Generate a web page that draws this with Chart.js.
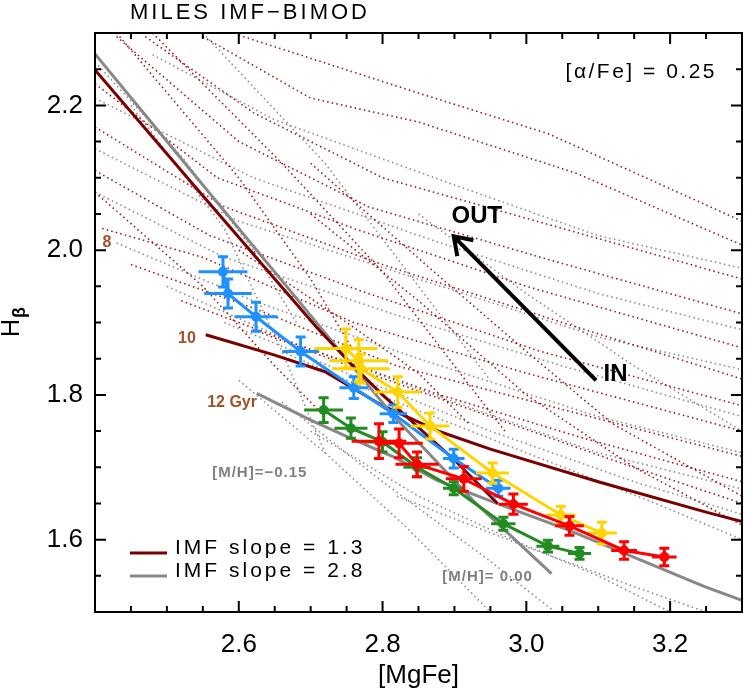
<!DOCTYPE html>
<html>
<head>
<meta charset="utf-8">
<script src="https://cdn.jsdelivr.net/npm/chart.js@4.4.1/dist/chart.umd.min.js"></script>
<style>
  html, body { margin: 0; padding: 0; background: #fff; }
  #wrap { width: 747px; height: 693px; }
</style>
</head>
<body>
<div id="wrap"><canvas id="grafico" width="747" height="693"></canvas></div>
<script>
// axes
const xRange = [2.4, 3.3];
const yRange = [1.5, 2.3];
const xTickLabels = [2.6, 2.8, 3.0, 3.2];
const yTickLabels = [1.6, 1.8, 2.0, 2.2];

// measurements: [MgFe], Hbeta and errors
const blueX    = [2.578, 2.585, 2.624, 2.686, 2.760, 2.815, 2.899, 2.961];
const blueY    = [1.970, 1.940, 1.908, 1.860, 1.810, 1.774, 1.712, 1.671];
const blueXErr = [0.034, 0.033, 0.030, 0.025, 0.020, 0.019, 0.015, 0.017];
const blueYErr = [0.021, 0.020, 0.020, 0.020, 0.015, 0.012, 0.013, 0.011];

const yellowX    = [2.749, 2.767, 2.770, 2.821, 2.866, 2.953, 3.048, 3.105];
const yellowY    = [1.864, 1.847, 1.836, 1.804, 1.757, 1.692, 1.634, 1.609];
const yellowXErr = [0.044, 0.041, 0.040, 0.033, 0.027, 0.023, 0.020, 0.021];
const yellowYErr = [0.027, 0.029, 0.020, 0.021, 0.018, 0.014, 0.012, 0.015];

const redX    = [2.795, 2.823, 2.848, 2.913, 2.982, 3.060, 3.136, 3.192];
const redY    = [1.736, 1.733, 1.704, 1.684, 1.649, 1.619, 1.585, 1.576];
const redXErr = [0.038, 0.033, 0.030, 0.025, 0.020, 0.020, 0.018, 0.017];
const redYErr = [0.024, 0.020, 0.017, 0.017, 0.014, 0.013, 0.012, 0.012];

const greenX    = [2.718, 2.756, 2.800, 2.848, 2.899, 2.968, 3.030, 3.074];
const greenY    = [1.779, 1.754, 1.735, 1.700, 1.671, 1.622, 1.591, 1.581];
const greenXErr = [0.027, 0.023, 0.025, 0.019, 0.015, 0.017, 0.016, 0.016];
const greenYErr = [0.017, 0.014, 0.014, 0.013, 0.009, 0.009, 0.008, 0.008];

// model lines (solid)
const imf13Metal = [[2.40, 2.249], [2.55, 2.075], [2.7075, 1.894], [2.756, 1.843], [2.80, 1.80], [2.90, 1.71], [2.96, 1.65]];
const imf28Metal = [[2.40, 2.271], [2.55, 2.09], [2.713, 1.894], [2.816, 1.77], [2.93, 1.65], [3.035, 1.553]];
const imf13Age = [[2.554, 1.883], [2.65, 1.855], [2.72, 1.832], [2.80, 1.785], [2.88, 1.749], [2.95, 1.725], [3.10, 1.68], [3.25, 1.638], [3.30, 1.625]];
const imf28Age = [[2.625, 1.802], [2.70, 1.765], [2.756, 1.74], [2.816, 1.714], [2.876, 1.682], [2.959, 1.65], [3.059, 1.613], [3.248, 1.535], [3.30, 1.516]];

// model grids (dotted)
const redGrid = [
    [[2.60, 2.297], [2.85, 2.217], [3.03, 2.161], [3.30, 2.040]],
    [[2.55, 2.295], [2.70, 2.21], [2.85, 2.177], [3.07, 2.106], [3.30, 2.007]],
    [[2.47, 2.295], [2.62, 2.19], [2.80, 2.10], [3.05, 2.03], [3.30, 1.960]],
    [[2.43, 2.295], [2.60, 2.15], [2.78, 2.06], [3.02, 1.99], [3.30, 1.912]],
    [[2.40, 2.23], [2.57, 2.10], [2.76, 2.03], [3.00, 1.95], [3.30, 1.865]],
    [[2.40, 2.17], [2.58, 2.06], [2.80, 1.98], [3.05, 1.90], [3.30, 1.822]],
    [[2.40, 2.11], [2.56, 2.02], [2.78, 1.94], [3.02, 1.86], [3.30, 1.785]],
    [[2.41, 2.03], [2.55, 1.99], [2.76, 1.90], [3.00, 1.83], [3.30, 1.750]],
    [[2.45, 1.98], [2.62, 1.92], [2.82, 1.84], [3.05, 1.78], [3.30, 1.715]],
    [[2.52, 1.93], [2.68, 1.87], [2.88, 1.80], [3.08, 1.74], [3.30, 1.680]],
    [[2.62, 1.89], [2.78, 1.83], [2.95, 1.77], [3.12, 1.71], [3.30, 1.650]],
    [[2.43, 2.30], [2.60, 2.10], [2.70, 1.96], [2.76, 1.86]],
    [[2.48, 2.30], [2.66, 2.12], [2.80, 1.97], [2.90, 1.84], [2.97, 1.75]],
    [[2.70, 2.12], [2.86, 1.98], [3.00, 1.86], [3.12, 1.76], [3.30, 1.66]],
    [[2.40, 2.08], [2.55, 1.95], [2.65, 1.84], [2.72, 1.77]],
    [[2.70, 2.05], [2.85, 1.93], [3.00, 1.80], [3.15, 1.70], [3.30, 1.62]],
    [[2.60, 2.00], [2.75, 1.90], [2.85, 1.83], [2.92, 1.76]]
];
const grayGrid = [
    [[2.48, 2.27], [2.65, 2.18], [2.90, 2.09], [3.10, 2.02], [3.30, 1.975]],
    [[2.40, 2.21], [2.62, 2.10], [2.88, 2.01], [3.10, 1.94], [3.30, 1.89]],
    [[2.40, 2.14], [2.60, 2.04], [2.85, 1.96], [3.10, 1.88], [3.30, 1.835]],
    [[2.40, 2.08], [2.58, 1.99], [2.82, 1.91], [3.05, 1.84], [3.30, 1.77]],
    [[2.43, 2.01], [2.62, 1.93], [2.85, 1.85], [3.10, 1.77], [3.30, 1.72]],
    [[2.50, 1.95], [2.68, 1.87], [2.90, 1.79], [3.10, 1.72], [3.30, 1.67]],
    [[2.58, 1.90], [2.75, 1.83], [2.95, 1.75], [3.15, 1.68], [3.30, 1.635]],
    [[2.66, 1.86], [2.82, 1.79], [3.00, 1.72], [3.18, 1.65], [3.30, 1.60]],
    [[2.55, 2.30], [2.72, 2.12], [2.85, 1.95], [2.95, 1.82]],
    [[2.45, 2.20], [2.58, 2.03], [2.66, 1.86], [2.72, 1.72]],
    [[2.60, 1.82], [2.72, 1.72], [2.83, 1.62], [2.93, 1.52], [2.95, 1.50]],
    [[2.66, 1.79], [2.80, 1.68], [2.95, 1.57], [3.04, 1.50]],
    [[2.82, 1.66], [3.00, 1.59], [3.15, 1.535], [3.25, 1.50]],
    [[2.40, 2.26], [2.52, 2.13], [2.62, 2.00], [2.68, 1.90]],
    [[2.85, 2.05], [3.00, 1.94], [3.15, 1.84], [3.30, 1.75]],
    [[2.70, 1.75], [2.85, 1.66], [2.98, 1.60], [3.10, 1.55], [3.20, 1.50]]
];

const FONTE = "'Liberation Sans', Arial, sans-serif";
const pts = (xs, ys) => xs.map((x, i) => ({ x: x, y: ys[i] }));
const par = (arr) => arr.map(p => ({ x: p[0], y: p[1] }));

const datasets = [];
redGrid.forEach(l => datasets.push({
    data: par(l), showLine: true, borderColor: '#a01818', borderWidth: 1.6,
    borderDash: [1.5, 3.2], pointRadius: 0, order: 20
}));
grayGrid.forEach(l => datasets.push({
    data: par(l), showLine: true, borderColor: '#8c8c8c', borderWidth: 1.6,
    borderDash: [1.5, 3.2], pointRadius: 0, order: 20
}));
[[imf13Metal, '#7a0000'], [imf28Metal, '#888888'], [imf13Age, '#7a0000'], [imf28Age, '#888888']].forEach(m => datasets.push({
    data: par(m[0]), showLine: true, borderColor: m[1], borderWidth: 3,
    pointRadius: 0, order: 10
}));

function serie(xs, ys, ex, ey, cor, ordem) {
    return {
        data: pts(xs, ys), errX: ex, errY: ey, showLine: true,
        borderColor: cor, backgroundColor: cor, borderWidth: 3,
        pointRadius: 5, pointBorderWidth: 0, pointBackgroundColor: cor, order: ordem
    };
}
datasets.push(serie(blueX, blueY, blueXErr, blueYErr, '#1e90ff', 4));
datasets.push(serie(yellowX, yellowY, yellowXErr, yellowYErr, '#ffd400', 3));
datasets.push(serie(greenX, greenY, greenXErr, greenYErr, '#228b22', 2));
datasets.push(serie(redX, redY, redXErr, redYErr, '#ff0000', 1));

// error bars, drawn right after each series so the layering is kept
const barrasErro = {
    id: 'barrasErro',
    afterDatasetDraw(chart, args) {
        const ds = chart.data.datasets[args.index];
        if (!ds.errX) return;
        const sx = chart.scales.x, sy = chart.scales.y, ctx = chart.ctx;
        ctx.save();
        ctx.strokeStyle = ds.borderColor;
        ctx.lineWidth = 3;
        ds.data.forEach((p, i) => {
            const x0 = sx.getPixelForValue(p.x - ds.errX[i]);
            const x1 = sx.getPixelForValue(p.x + ds.errX[i]);
            const y0 = sy.getPixelForValue(p.y - ds.errY[i]);
            const y1 = sy.getPixelForValue(p.y + ds.errY[i]);
            const px = sx.getPixelForValue(p.x), py = sy.getPixelForValue(p.y);
            ctx.beginPath();
            ctx.moveTo(x0, py); ctx.lineTo(x1, py);
            ctx.moveTo(px, y0); ctx.lineTo(px, y1);
            ctx.moveTo(px - 5, y0); ctx.lineTo(px + 5, y0);
            ctx.moveTo(px - 5, y1); ctx.lineTo(px + 5, y1);
            ctx.stroke();
        });
        ctx.restore();
    }
};

// IDL-like frame with inward ticks on all four sides
const moldura = {
    id: 'moldura',
    afterDraw(chart) {
        const { ctx, chartArea: a } = chart;
        const sx = chart.scales.x, sy = chart.scales.y;
        ctx.save();
        ctx.strokeStyle = '#000';
        ctx.lineWidth = 2;
        ctx.strokeRect(a.left, a.top, a.right - a.left, a.bottom - a.top);
        ctx.beginPath();
        for (let v = xRange[0] + 0.05; v < xRange[1] - 0.001; v += 0.05) {
            const major = xTickLabels.some(t => Math.abs(t - v) < 1e-6);
            const len = major ? 11 : 6;
            const px = sx.getPixelForValue(v);
            ctx.moveTo(px, a.bottom); ctx.lineTo(px, a.bottom - len);
            ctx.moveTo(px, a.top); ctx.lineTo(px, a.top + len);
        }
        for (let v = yRange[0] + 0.05; v < yRange[1] - 0.001; v += 0.05) {
            const major = yTickLabels.some(t => Math.abs(t - v) < 1e-6);
            const len = major ? 11 : 6;
            const py = sy.getPixelForValue(v);
            ctx.moveTo(a.left, py); ctx.lineTo(a.left + len, py);
            ctx.moveTo(a.right, py); ctx.lineTo(a.right - len, py);
        }
        ctx.stroke();
        ctx.restore();
    }
};

// texts, arrow, legend
const textos = {
    id: 'textos',
    afterDraw(chart) {
        const { ctx, chartArea: a } = chart;
        const sx = chart.scales.x, sy = chart.scales.y;
        const X = v => sx.getPixelForValue(v), Y = v => sy.getPixelForValue(v);
        ctx.save();
        ctx.fillStyle = '#000';
        ctx.textBaseline = 'middle';

        ctx.font = '22px ' + FONTE;
        ctx.letterSpacing = '3px';
        ctx.textAlign = 'left';
        ctx.fillText('MILES IMF\u2212BIMOD', 130, 13);

        ctx.font = '21px ' + FONTE;
        ctx.letterSpacing = '2.5px';
        ctx.textAlign = 'right';
        ctx.fillText('[\u03b1/Fe] = 0.25', a.right - 25, 72);

        ctx.letterSpacing = '0px';
        ctx.textAlign = 'center';
        ctx.font = '26px ' + FONTE;
        ctx.fillText('[MgFe]', (a.left + a.right) / 2, 676);

        // H_beta
        ctx.save();
        ctx.translate(19, 337);
        ctx.rotate(-Math.PI / 2);
        ctx.textAlign = 'left';
        ctx.textBaseline = 'alphabetic';
        ctx.font = '25px ' + FONTE;
        ctx.fillText('H', 0, 0);
        const w = ctx.measureText('H').width;
        ctx.font = 'bold 18px ' + FONTE;
        ctx.fillText('\u03b2', w + 1, 6);
        ctx.restore();

        // ages
        ctx.fillStyle = '#a0522d';
        ctx.font = 'bold 16px ' + FONTE;
        ctx.textAlign = 'center';
        ctx.fillText('8', X(2.4166), Y(2.011));
        ctx.fillText('10', X(2.528), Y(1.878));
        ctx.textAlign = 'left';
        ctx.fillText('12 Gyr', X(2.556), Y(1.790));

        // metallicities
        ctx.fillStyle = '#7f7f7f';
        ctx.font = 'bold 15px ' + FONTE;
        ctx.letterSpacing = '1px';
        ctx.fillText('[M/H]=\u22120.15', X(2.563), Y(1.692));
        ctx.fillText('[M/H]= 0.00', X(2.883), Y(1.548));
        ctx.letterSpacing = '0px';

        // IN -> OUT arrow
        const tx = X(3.097), ty = Y(1.820), hx = X(2.899), hy = Y(2.019);
        const ang = Math.atan2(ty - hy, tx - hx);
        ctx.strokeStyle = '#000';
        ctx.lineWidth = 4;
        ctx.lineCap = 'butt';
        ctx.beginPath();
        ctx.moveTo(tx, ty); ctx.lineTo(hx, hy);
        ctx.moveTo(hx + 20 * Math.cos(ang - 0.6), hy + 20 * Math.sin(ang - 0.6));
        ctx.lineTo(hx, hy);
        ctx.lineTo(hx + 20 * Math.cos(ang + 0.6), hy + 20 * Math.sin(ang + 0.6));
        ctx.stroke();
        ctx.fillStyle = '#000';
        ctx.font = 'bold 24px ' + FONTE;
        ctx.fillText('OUT', X(2.896), Y(2.046));
        ctx.fillText('IN', X(3.1075), Y(1.829));

        // legend
        ctx.lineWidth = 3;
        ctx.font = '21px ' + FONTE;
        ctx.letterSpacing = '3px';
        [['IMF slope = 1.3', '#7a0000', 553, 548], ['IMF slope = 2.8', '#888888', 576, 571]].forEach(e => {
            ctx.strokeStyle = e[1];
            ctx.beginPath();
            ctx.moveTo(130, e[2]); ctx.lineTo(167, e[2]);
            ctx.stroke();
            ctx.fillStyle = '#000';
            ctx.fillText(e[0], 175, e[3]);
        });
        ctx.restore();
    }
};

new Chart(document.getElementById('grafico'), {
    type: 'scatter',
    data: { datasets: datasets },
    options: {
        responsive: false,
        animation: false,
        devicePixelRatio: 1,
        layout: { padding: { left: 0, right: 2, top: 33, bottom: 0 } },
        plugins: { legend: { display: false }, tooltip: { enabled: false } },
        scales: {
            x: {
                type: 'linear', min: xRange[0], max: xRange[1],
                afterBuildTicks: s => { s.ticks = xTickLabels.map(v => ({ value: v })); },
                afterFit: s => { s.height = 81; },
                grid: { display: false, drawTicks: false },
                border: { display: false },
                ticks: {
                    autoSkip: false, maxRotation: 0, padding: 17, color: '#000',
                    font: { family: FONTE, size: 26 },
                    callback: v => v.toFixed(1)
                }
            },
            y: {
                type: 'linear', min: yRange[0], max: yRange[1],
                afterBuildTicks: s => { s.ticks = yTickLabels.map(v => ({ value: v })); },
                afterFit: s => { s.width = 95; },
                grid: { display: false, drawTicks: false },
                border: { display: false },
                ticks: {
                    autoSkip: false, padding: 12, color: '#000',
                    font: { family: FONTE, size: 26 },
                    callback: v => v.toFixed(1)
                }
            }
        }
    },
    plugins: [barrasErro, moldura, textos]
});
</script>
</body>
</html>
